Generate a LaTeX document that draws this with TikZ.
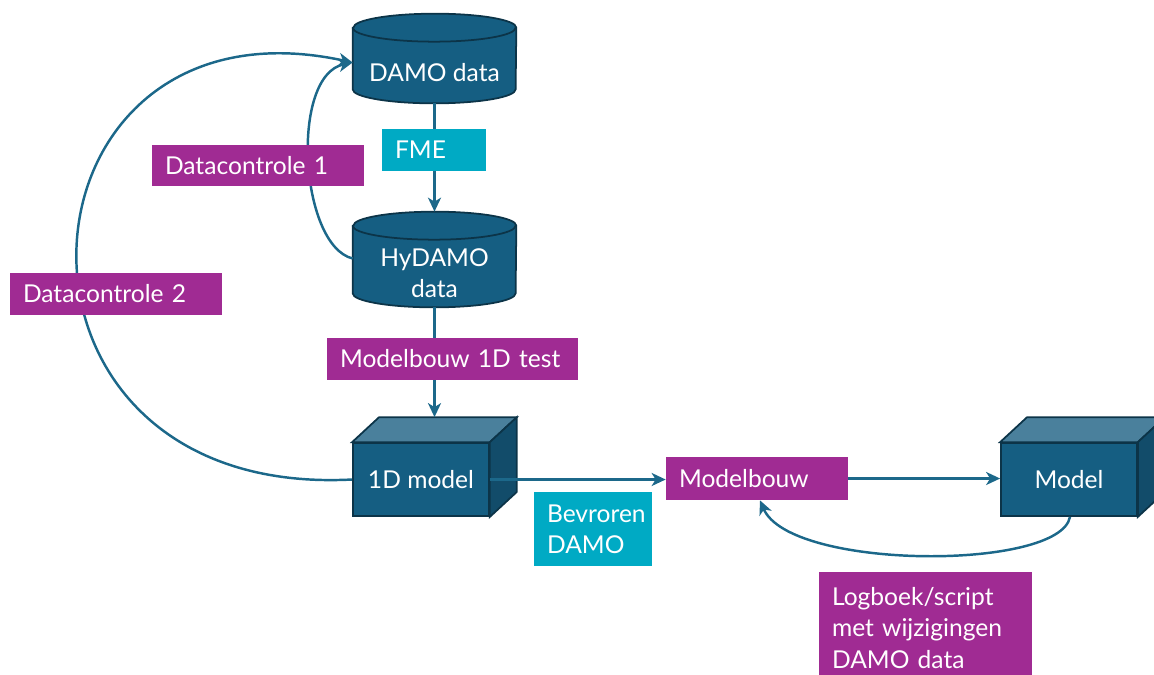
\documentclass[tikz,border=0pt]{standalone}
\usepackage{fontspec}
\setmainfont{Lato}
\usepackage{tikz}
\usetikzlibrary{positioning,arrows.meta,calc,backgrounds}
\definecolor{damoblue}{RGB}{21,94,130}
\definecolor{damotop}{RGB}{74,128,156}
\definecolor{damoside}{RGB}{18,76,106}
\definecolor{damoline}{RGB}{12,52,72}
\definecolor{flowblue}{RGB}{28,104,138}
\definecolor{checkpurple}{RGB}{160,43,147}
\definecolor{toolcyan}{RGB}{0,170,196}
\tikzset{
  lbl/.style={font=\fontsize{14}{17.8}\selectfont,text=white},
  cylbox/.style={lbl,align=center,minimum width=3.26cm,inner sep=0pt},
  cylshape/.style={draw=damoline,fill=damoblue,line width=1pt},
  cubebox/.style={lbl,draw=damoline,fill=damoblue,line width=1pt,minimum width=2.72cm,minimum height=1.46cm,inner sep=0pt},
  tagbox/.style={lbl,align=left,inner xsep=0.26cm,inner ysep=0pt},
  checkbox/.style={tagbox,fill=checkpurple},
  toolbox/.style={tagbox,fill=toolcyan},
  flow/.style={-{Stealth[length=2.8mm,width=2.6mm,inset=0.8mm]},line width=1.4pt,draw=flowblue},
}
\begin{document}
\begin{tikzpicture}[x=0.02cm,y=-0.02cm]
  \useasboundingbox (0,0) rectangle (1154,674);
  % data stores and models
  \node[cylbox,minimum height=1.22cm] (damo) at (434.5,72.5) {DAMO data};
  \node[cylbox,minimum height=1.34cm] (hydamo) at (434.5,273.5) {HyDAMO\\data};
  \node[cubebox] (onedmodel) at (421,479.5) {1D model};
  \node[cubebox] (model) at (1069,479.5) {Model};
  \node[checkbox,text width=3.12cm,minimum height=0.86cm] (modelbouw) at (757,478.5) {Modelbouw};
  \begin{scope}[on background layer]
    \foreach \c in {damo,hydamo}{
      \draw[cylshape] ([yshift=0.28cm]\c.north west) -- ([yshift=0.28cm]\c.south west)
        arc[start angle=180,end angle=360,x radius=1.63cm,y radius=0.28cm]
        -- ([yshift=0.28cm]\c.north east)
        arc[start angle=0,end angle=180,x radius=1.63cm,y radius=0.28cm] -- cycle;
      \draw[cylshape,fill=none] ([yshift=0.28cm]\c.north west)
        arc[start angle=180,end angle=360,x radius=1.63cm,y radius=0.28cm];
    }
  \end{scope}
  \foreach \c in {onedmodel,model}{
    \draw[cylshape,fill=damotop] (\c.north west) -- ++(27,-25) -- ([shift={(27,-25)}]\c.north east) -- (\c.north east) -- cycle;
    \draw[cylshape,fill=damoside] (\c.north east) -- ([shift={(27,-25)}]\c.north east) -- ([shift={(27,-25)}]\c.south east) -- (\c.south east) -- cycle;
  }
  % connectors
  \draw[flow] (damo.south) -- ([yshift=0.56cm]hydamo.north);
  \draw[flow] (hydamo.south) -- ([shift={(13.5,-25)}]onedmodel.north);
  \draw[flow] ([yshift=0.3cm]hydamo.west) .. controls +(-53,-13) and +(-63,13) .. ([yshift=0.2cm]damo.west);
  \draw[flow] (onedmodel.west) .. controls +(-383,20) and +(-350,-76) .. ([yshift=0.2cm]damo.west);
  \draw[flow] (onedmodel.east) -- (onedmodel.east -| modelbouw.west);
  \draw[flow] (modelbouw.east) -- (modelbouw.east -| model.west);
  \draw[flow] ([xshift=0.02cm]model.south) .. controls +(-10,54) and +(30,70) .. ([xshift=0.06cm]modelbouw.south);
  % labels on the connectors
  \node[toolbox,text width=1.56cm,minimum height=0.84cm] (fme) at (434,150) {FME};
  \node[checkbox,text width=3.72cm,minimum height=0.82cm] (check1) at (258,165.5) {Datacontrole 1};
  \node[checkbox,text width=3.72cm,minimum height=0.84cm] (check2) at (116,294) {Datacontrole 2};
  \node[checkbox,text width=4.5cm,minimum height=0.84cm] (testbuild) at (452.5,359) {Modelbouw 1D test};
  \node[toolbox,text width=1.84cm,minimum height=1.48cm] (frozen) at (593,529) {Bevroren\\DAMO};
  \node[checkbox,text width=3.74cm,minimum height=2.24cm] (logbook) at (925.5,628) {Logboek/script\\met wijzigingen\\DAMO data};
\end{tikzpicture}
\end{document}
